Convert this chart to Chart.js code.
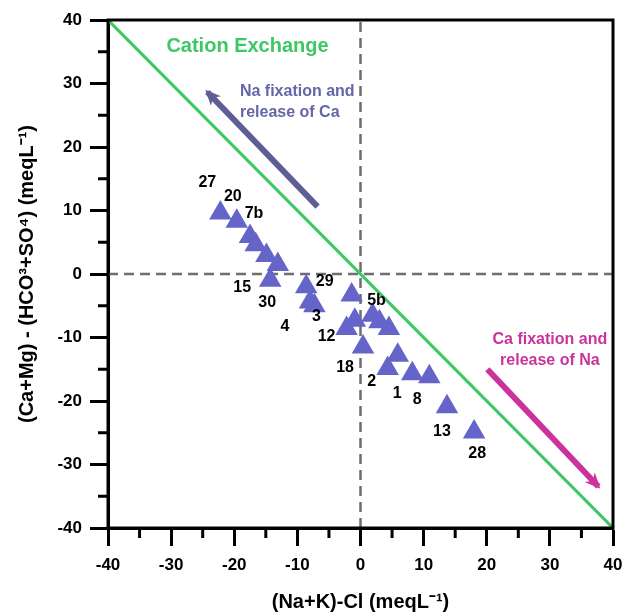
<!DOCTYPE html>
<html>
<head>
<meta charset="utf-8">
<script src="https://cdn.jsdelivr.net/npm/chart.js@4.4.0/dist/chart.umd.min.js"></script>
<style>
html, body { margin: 0; padding: 0; background: #fff; }
</style>
</head>
<body>
<canvas id="myChart" width="626" height="614"></canvas>
<script>
// Sample ids and values (meq/L)
var sampleIds = ['27', '20', '7b', '', '', '', '15', '30', '4', '3', '29', '', '12', '5b', '', '', '18', '', '2', '1', '8', '13', '28'];
var naKminusCl = [-22.2, -19.6, -17.5, -16.6, -14.9, -13.1, -14.3, -8.6, -8.0, -7.3, -1.4, -0.9, -2.2, 1.9, 3.0, 4.5, 0.4, 5.9, 4.3, 8.2, 10.9, 13.7, 18.0];
var caMgMinusHco3So4 = [9.6, 8.3, 5.9, 4.6, 2.9, 1.5, -1.0, -2.0, -4.4, -5.0, -3.3, -7.3, -8.6, -6.5, -7.5, -8.6, -11.5, -12.8, -14.9, -15.7, -16.2, -20.9, -24.9];

// 1:1 cation exchange line
var exchangeX = [-40, 40];
var exchangeY = [40, -40];

var axisMin = -40;
var axisMax = 40;
var minorTicks = [-35, -25, -15, -5, 5, 15, 25, 35];

// label offsets in px (text centre relative to the point)
var labelOffsets = [[-13, -30], [-4, -25], [4, -23], [0, 0], [0, 0], [0, 0], [-28, 7], [-39, 16], [-25, 25], [2, 11], [-27, -13], [0, 0], [-20, 8], [4, -15], [0, 0], [0, 0], [-18, 21], [0, 0], [-16, 13], [-15, 20], [-12, 23], [-5, 25], [3, 21]];

// arrows and their notes, in data units
var arrows = [
  { from: [-6.8, 10.6], to: [-24.6, 29.0], color: '#5c5e94' },
  { from: [20.1, -15.0], to: [38.0, -33.8], color: '#c9339b' }
];
var notes = [
  { text: 'Cation Exchange', x: -17.9, y: 35.8, color: '#3cc864', size: 20, align: 'center' },
  { text: 'Na fixation and', x: -19.1, y: 28.7, color: '#6466a6', size: 16, align: 'left' },
  { text: 'release of Ca', x: -19.1, y: 25.4, color: '#6466a6', size: 16, align: 'left' },
  { text: 'Ca fixation and', x: 30.0, y: -10.4, color: '#c9339b', size: 16, align: 'center' },
  { text: 'release of Na', x: 30.0, y: -13.7, color: '#c9339b', size: 16, align: 'center' }
];

var FONT = '"Liberation Sans", Arial, sans-serif';

function toPoints(xs, ys) {
  var out = [];
  for (var i = 0; i < xs.length; i++) out.push({ x: xs[i], y: ys[i] });
  return out;
}

// frame, minor ticks, sample labels, arrows and notes
var extrasPlugin = {
  id: 'extras',
  afterDatasetsDraw: function (chart) {
    var ctx = chart.ctx;
    var xs = chart.scales.x;
    var ys = chart.scales.y;

    ctx.save();
    // arrows
    arrows.forEach(function (a) {
      var x1 = xs.getPixelForValue(a.from[0]), y1 = ys.getPixelForValue(a.from[1]);
      var x2 = xs.getPixelForValue(a.to[0]), y2 = ys.getPixelForValue(a.to[1]);
      var ang = Math.atan2(y2 - y1, x2 - x1);
      ctx.strokeStyle = a.color;
      ctx.lineWidth = 6;
      ctx.lineCap = 'butt';
      ctx.beginPath();
      ctx.moveTo(x1, y1);
      ctx.lineTo(x2 - Math.cos(ang) * 3, y2 - Math.sin(ang) * 3);
      ctx.stroke();
      ctx.fillStyle = a.color;
      ctx.beginPath();
      ctx.moveTo(x2, y2);
      ctx.lineTo(x2 - 17 * Math.cos(ang - 0.42), y2 - 17 * Math.sin(ang - 0.42));
      ctx.lineTo(x2 - 11 * Math.cos(ang), y2 - 11 * Math.sin(ang));
      ctx.lineTo(x2 - 17 * Math.cos(ang + 0.42), y2 - 17 * Math.sin(ang + 0.42));
      ctx.closePath();
      ctx.fill();
    });

    // notes
    ctx.textBaseline = 'middle';
    notes.forEach(function (n) {
      ctx.font = 'bold ' + n.size + 'px ' + FONT;
      ctx.fillStyle = n.color;
      ctx.textAlign = n.align;
      ctx.fillText(n.text, xs.getPixelForValue(n.x), ys.getPixelForValue(n.y));
    });

    // sample labels
    ctx.font = 'bold 16px ' + FONT;
    ctx.fillStyle = '#000';
    ctx.textAlign = 'center';
    var meta = chart.getDatasetMeta(0);
    meta.data.forEach(function (pt, i) {
      if (!sampleIds[i]) return;
      ctx.fillText(sampleIds[i], pt.x + labelOffsets[i][0], pt.y + labelOffsets[i][1]);
    });
    ctx.restore();
  },
  afterDraw: function (chart) {
    var ctx = chart.ctx;
    var a = chart.chartArea;
    var xs = chart.scales.x;
    var ys = chart.scales.y;
    ctx.save();
    ctx.strokeStyle = '#000';
    ctx.lineWidth = 3;
    ctx.strokeRect(a.left, a.top, a.right - a.left, a.bottom - a.top);
    ctx.beginPath();
    minorTicks.forEach(function (v) {
      var px = xs.getPixelForValue(v);
      ctx.moveTo(px, a.bottom);
      ctx.lineTo(px, a.bottom + 10);
      var py = ys.getPixelForValue(v);
      ctx.moveTo(a.left, py);
      ctx.lineTo(a.left - 10, py);
    });
    ctx.stroke();
    ctx.restore();
  }
};

var data = {
  datasets: [
    {
      type: 'scatter',
      label: 'Samples',
      data: toPoints(naKminusCl, caMgMinusHco3So4),
      pointStyle: 'triangle',
      pointRadius: 13,
      pointHoverRadius: 13,
      pointBackgroundColor: '#6565c9',
      pointBorderWidth: 0,
      order: 0
    },
    {
      type: 'line',
      label: 'Cation Exchange',
      data: toPoints(exchangeX, exchangeY),
      borderColor: '#3cc864',
      borderWidth: 3,
      pointRadius: 0,
      fill: false,
      order: 1
    },
    {
      type: 'line',
      label: 'x zero',
      data: toPoints([0, 0], [axisMin, axisMax]),
      borderColor: '#6e6e6e',
      borderWidth: 2.5,
      borderDash: [10, 6],
      pointRadius: 0,
      fill: false,
      order: 2
    },
    {
      type: 'line',
      label: 'y zero',
      data: toPoints([axisMin, axisMax], [0, 0]),
      borderColor: '#6e6e6e',
      borderWidth: 2.5,
      borderDash: [10, 6],
      pointRadius: 0,
      fill: false,
      order: 2
    }
  ]
};

var tickFont = { family: FONT, size: 17, weight: 'bold' };
var titleFont = { family: FONT, size: 20, weight: 'bold', lineHeight: 1.2 };

var options = {
  responsive: false,
  animation: false,
  layout: { padding: { left: 0, right: 12, top: 20, bottom: 0 } },
  plugins: {
    legend: { display: false },
    tooltip: { enabled: false }
  },
  scales: {
    x: {
      type: 'linear',
      min: axisMin,
      max: axisMax,
      afterFit: function (scale) {
        scale.height = 86;
        scale.paddingLeft = 0;
        scale.paddingRight = 0;
      },
      ticks: { stepSize: 10, color: '#000', font: tickFont, padding: 9, maxRotation: 0, autoSkip: false },
      grid: { drawOnChartArea: false, drawTicks: true, tickLength: 18, tickWidth: 3, tickColor: '#000' },
      border: { display: true, width: 3, color: '#000' },
      title: { display: true, text: '(Na+K)-Cl (meqL\u207B\u00B9)', color: '#000', font: titleFont, padding: { top: 0, bottom: 0 } }
    },
    y: {
      type: 'linear',
      min: axisMin,
      max: axisMax,
      afterFit: function (scale) {
        scale.width = 108;
        scale.paddingTop = 0;
        scale.paddingBottom = 0;
      },
      ticks: { stepSize: 10, color: '#000', font: tickFont, padding: 8 },
      grid: { drawOnChartArea: false, drawTicks: true, tickLength: 18, tickWidth: 3, tickColor: '#000' },
      border: { display: true, width: 3, color: '#000' },
      title: { display: true, text: '(Ca+Mg) - (HCO\u00B3+SO\u2074) (meqL\u207B\u00B9)', color: '#000', font: titleFont, padding: { top: 15, bottom: 0 } }
    }
  }
};

var ctx = document.getElementById('myChart').getContext('2d');
var chart = new Chart(ctx, {
  type: 'scatter',
  data: data,
  options: options,
  plugins: [extrasPlugin]
});
</script>
</body>
</html>
